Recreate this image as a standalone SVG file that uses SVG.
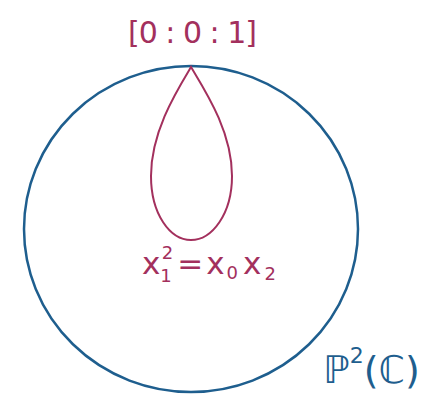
<svg xmlns="http://www.w3.org/2000/svg" width="430" height="398" viewBox="0 0 430 398">
<style>
.red{fill:none;stroke:#a3305d;stroke-width:2}
.blue{fill:none;stroke:#1e5e8e;stroke-width:2.5}
.rt{fill:#a3305d;font-family:"DejaVu Sans",sans-serif}
.bt{fill:#1e5e8e;font-family:"DejaVu Sans",sans-serif}
</style>
<rect width="430" height="398" fill="#ffffff"/>
<g id="plane">
<ellipse class="blue" cx="191" cy="229" rx="167" ry="163"/>
<text class="bt" x="323" y="383" font-size="38">ℙ<tspan font-size="22" dy="-20">2</tspan><tspan dy="20">(ℂ)</tspan></text>
</g>
<g id="conic">
<path class="red" d="M191,67 C176,92 151,132 151,176 C151,214 170,240 191,240 C212,240 232,214 232,176 C232,132 206,92 191,67 Z"/>
<text class="rt" x="142" y="274" font-size="31">x<tspan font-size="18" dy="8">1</tspan><tspan font-size="18" dx="-10" dy="-23">2</tspan><tspan dy="15" dx="4">=</tspan><tspan dx="3">x</tspan><tspan font-size="18" dx="2" dy="5">0</tspan><tspan dx="5" dy="-5">x</tspan><tspan font-size="18" dx="3" dy="6">2</tspan></text>
</g>
<g id="point">
<text class="rt" x="192" y="43" font-size="30" text-anchor="middle" letter-spacing="-1">[0 : 0 : 1]</text>
</g>
</svg>
